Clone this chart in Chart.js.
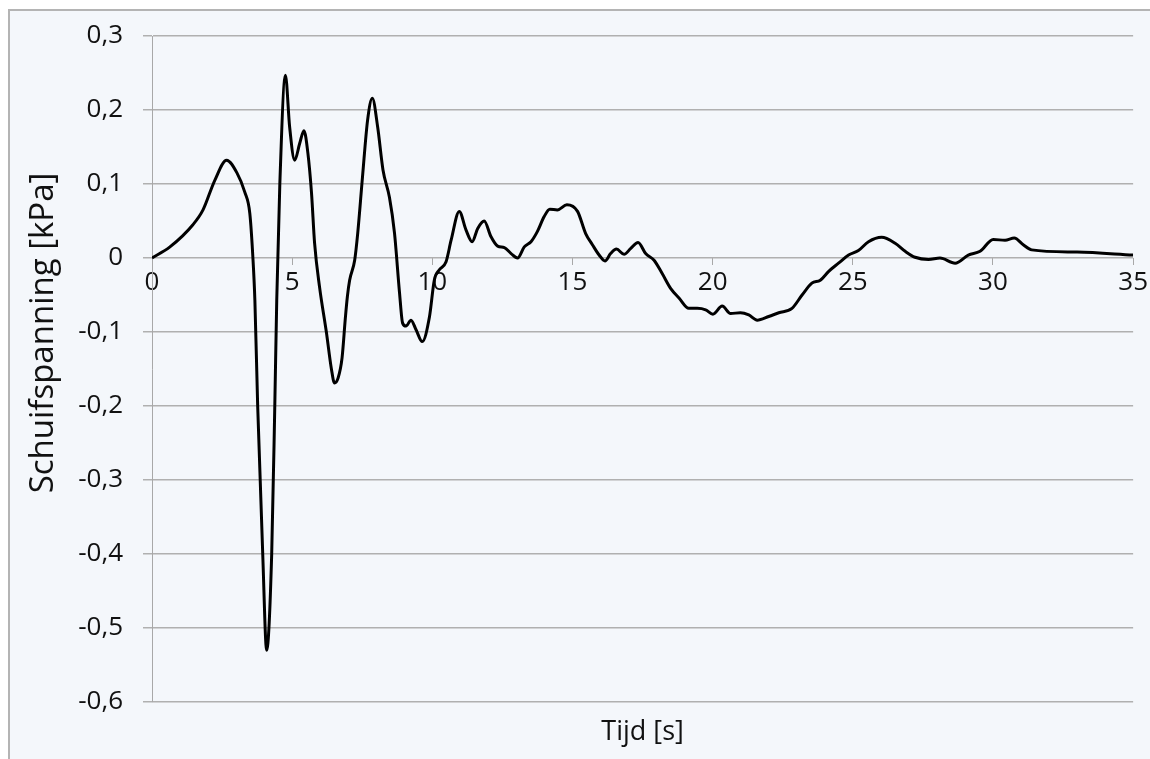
<!DOCTYPE html>
<html>
<head>
<meta charset="utf-8">
<script src="https://cdn.jsdelivr.net/npm/chart.js@4/dist/chart.umd.min.js"></script>
<style>
  body { margin: 0; background: #fff; }
  .frame {
    position: absolute; left: 8px; top: 9px; width: 1160px; height: 770px;
    border: 2px solid #b4b4b4; background: #f4f7fb;
  }
  #shearChart { position: absolute; left: 0; top: 0; }
</style>
</head>
<body>
<div class="frame"></div>
<canvas id="shearChart" width="1150" height="759"></canvas>
<script>
// time (s) and shear stress (kPa)
const times = [
  0.0, 0.64, 1.46, 1.82, 2.24, 2.66, 3.03, 3.31, 3.49, 3.60,
  3.67, 3.77, 3.95, 4.09, 4.27, 4.38, 4.45, 4.56, 4.76, 4.91,
  5.09, 5.27, 5.42, 5.56, 5.69, 5.80, 5.98, 6.22, 6.40, 6.51,
  6.64, 6.78, 6.90, 6.97, 7.05, 7.23, 7.34, 7.51, 7.69, 7.86,
  8.05, 8.24, 8.47, 8.65, 8.83, 8.94, 9.06, 9.24, 9.42, 9.64,
  9.90, 10.07, 10.25, 10.49, 10.67, 10.96, 11.20, 11.42, 11.62, 11.85,
  12.09, 12.33, 12.57, 12.81, 13.04, 13.28, 13.52, 13.75, 13.99, 14.19,
  14.46, 14.80, 15.18, 15.47, 15.71, 15.95, 16.16, 16.36, 16.57, 16.84,
  17.08, 17.34, 17.61, 17.91, 18.20, 18.50, 18.80, 19.15, 19.45, 19.75,
  20.01, 20.34, 20.64, 20.99, 21.29, 21.59, 22.00, 22.36, 22.83, 23.19,
  23.54, 23.84, 24.14, 24.49, 24.85, 25.20, 25.56, 26.03, 26.51, 26.87,
  27.22, 27.70, 28.11, 28.65, 29.12, 29.54, 30.01, 30.43, 30.76, 31.08,
  31.38, 33.0, 35.0
];
const shear = [
  0.000, 0.015, 0.045, 0.065, 0.105, 0.132, 0.115, 0.089, 0.060, 0.000,
  -0.057, -0.200, -0.400, -0.530, -0.400, -0.200, -0.057, 0.100, 0.247, 0.177,
  0.132, 0.155, 0.172, 0.142, 0.088, 0.020, -0.040, -0.100, -0.150, -0.169,
  -0.162, -0.135, -0.080, -0.052, -0.030, -0.003, 0.034, 0.110, 0.186, 0.216,
  0.177, 0.119, 0.082, 0.034, -0.047, -0.088, -0.092, -0.084, -0.097, -0.113,
  -0.079, -0.030, -0.016, -0.005, 0.024, 0.063, 0.038, 0.022, 0.040, 0.050,
  0.029, 0.016, 0.014, 0.006, 0.000, 0.015, 0.022, 0.036, 0.056, 0.066,
  0.065, 0.072, 0.063, 0.033, 0.018, 0.004, -0.004, 0.006, 0.012, 0.005,
  0.013, 0.021, 0.006, -0.003, -0.021, -0.041, -0.054, -0.068, -0.068, -0.070,
  -0.076, -0.065, -0.075, -0.074, -0.077, -0.084, -0.079, -0.074, -0.068, -0.050,
  -0.034, -0.030, -0.018, -0.007, 0.004, 0.010, 0.022, 0.028, 0.020, 0.009,
  0.001, -0.002, 0.000, -0.007, 0.004, 0.009, 0.025, 0.024, 0.027, 0.018,
  0.011, 0.008, 0.004
];

const xTitle = "Tijd [s]";
const yTitle = "Schuifspanning [kPa]";

const points = times.map((t, i) => ({ x: t, y: shear[i] }));
const fontFamily = "'Open Sans', sans-serif";

// y-axis title sits a bit above the plot centre, like in the original
const yTitlePlugin = {
  id: "yTitle",
  afterDraw(chart) {
    const c = chart.ctx;
    c.save();
    c.translate(44, 333);
    c.rotate(-Math.PI / 2);
    c.font = "33px " + fontFamily;
    c.fillStyle = "#111";
    c.textAlign = "center";
    c.textBaseline = "middle";
    c.fillText(yTitle, 0, 0);
    c.restore();
  },
};

const ctx = document.getElementById("shearChart").getContext("2d");
new Chart(ctx, {
  type: "line",
  data: {
    datasets: [
      {
        data: points,
        borderColor: "#000",
        borderWidth: 3,
        pointRadius: 0,
        cubicInterpolationMode: "monotone",
        fill: false,
      },
    ],
  },
  options: {
    responsive: false,
    animation: false,
    events: [],
    layout: { padding: { top: 36, right: 15, left: 0, bottom: 0 } },
    plugins: { legend: { display: false }, tooltip: { enabled: false } },
    scales: {
      x: {
        type: "linear",
        position: { y: 0 },
        min: 0,
        max: 35,
        afterFit: (scale) => { scale.height = 0; },
        ticks: {
          stepSize: 5,
          color: "#111",
          padding: 2,
          font: { family: fontFamily, size: 26 },
          maxRotation: 0,
        },
        grid: { drawOnChartArea: false, drawTicks: true, tickLength: 7, color: "#a8a8a8" },
        border: { display: false },
      },
      xTitleAxis: {
        type: "linear",
        axis: "x",
        position: "bottom",
        min: 0,
        max: 35,
        afterFit: (scale) => { scale.height = 57; },
        ticks: { display: false },
        grid: { display: false },
        border: { display: false },
        title: {
          display: true,
          text: xTitle,
          color: "#111",
          font: { family: fontFamily, size: 27 },
          padding: { top: 0, bottom: 10 },
        },
      },
      y: {
        min: -0.6,
        max: 0.3,
        afterFit: (scale) => { scale.width = 152; },
        ticks: {
          stepSize: 0.1,
          color: "#111",
          padding: 20,
          font: { family: fontFamily, size: 26 },
          callback: (value) => {
            const v = Math.round(value * 10) / 10;
            return v === 0 ? "0" : v.toFixed(1).replace(".", ",");
          },
        },
        grid: { color: "#b0b0b0", lineWidth: 1.5, tickLength: 9 },
        border: { display: true, color: "#a8a8a8", width: 1 },
      },
    },
  },
  plugins: [yTitlePlugin],
});
</script>
</body>
</html>
